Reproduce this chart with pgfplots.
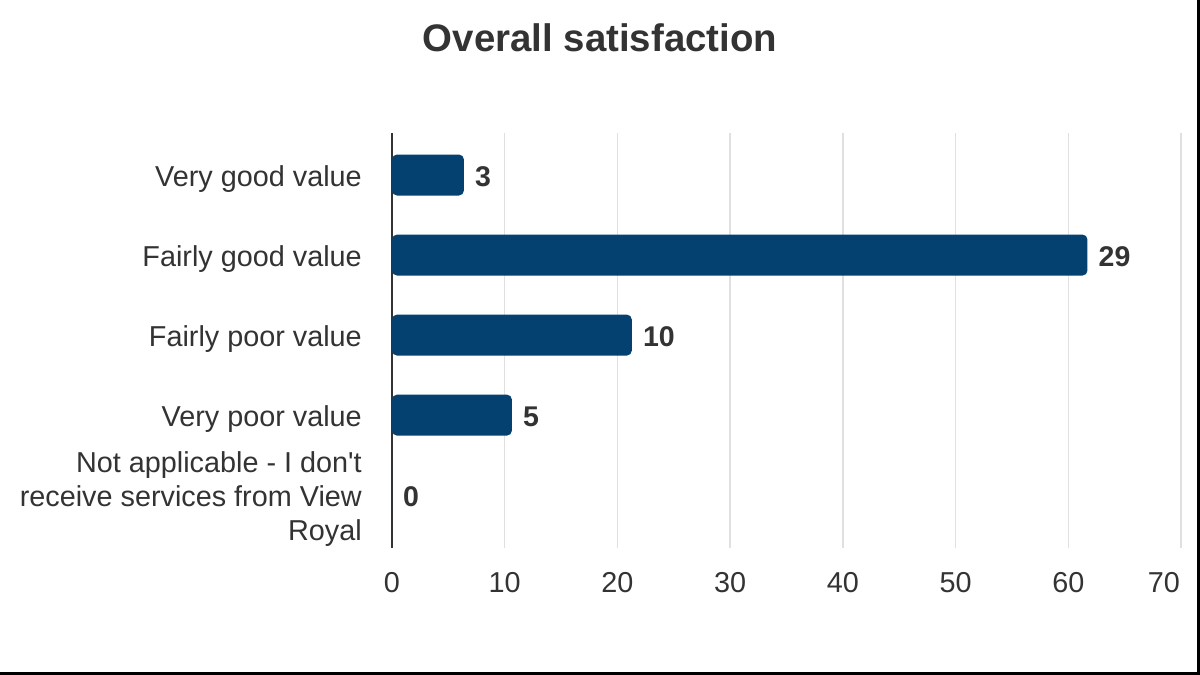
\documentclass[border=0pt]{standalone}
\usepackage{pgfplots}
\pgfplotsset{compat=1.18}
\usepackage{pgfplotstable}
\usepackage{fontspec}
\setmainfont{Liberation Sans}
\definecolor{barc}{HTML}{044070}
\definecolor{txt}{HTML}{333333}
\definecolor{gridc}{HTML}{E0E0E0}

\pgfplotstableread{
y pct n
0 6.383 3
1 61.702 29
2 21.277 10
3 10.638 5
4 0 0
}\datatable

\begin{document}
\begin{tikzpicture}[x=1bp,y=1bp]
\path[use as bounding box] (0,0) rectangle (1200,675);
\fill[white] (0,0) rectangle (1200,675);
\draw[black, line width=3bp] (0,1.5) -- (1198.5,1.5) -- (1198.5,675);
\node[anchor=base, font=\fontsize{38.4bp}{44bp}\selectfont\bfseries, text=txt, inner sep=0pt] at (600,623) {Overall satisfaction};
\begin{axis}[
  at={(392bp,127bp)}, anchor=south west,
  scale only axis, width=789bp, height=415bp,
  xmin=0, xmax=70, ymin=-0.525, ymax=4.66, y dir=reverse,
  ytick={0,1,2,3,4},
  yticklabels={Very good value, Fairly good value, Fairly poor value, Very poor value, {Not applicable - I don\textquotesingle t\\receive services from View\\Royal}},
  xtick={0,10,...,60},
  extra x ticks={70},
  extra x tick style={grid=major, xticklabel style={anchor=north east, xshift=-1bp}},
  axis x line*=bottom, axis y line*=left,
  x axis line style={draw=none},
  y axis line style={-, draw=txt, line width=1.5bp},
  major tick length=0pt,
  xmajorgrids, grid style={draw=gridc, line width=1.5bp},
  tick label style={font=\fontsize{28.8bp}{34bp}\selectfont, text=txt},
  /pgf/number format/assume math mode=true,
  yticklabel style={align=right, inner sep=0pt, xshift=-30bp, yshift=-4bp},
  xticklabel style={anchor=north, inner sep=0pt, yshift=-24bp},
  clip=false,
]
\addplot[xbar, bar width=41bp, fill=barc, draw=none, rounded corners=5bp,
  nodes near coords, point meta=explicit symbolic,
  nodes near coords style={anchor=west, inner sep=0pt, xshift=11bp, yshift=-2bp, font=\fontsize{28.5bp}{34bp}\selectfont\bfseries, text=txt}]
  table[x=pct, y=y, meta=n] {\datatable};
\end{axis}
\end{tikzpicture}
\end{document}
